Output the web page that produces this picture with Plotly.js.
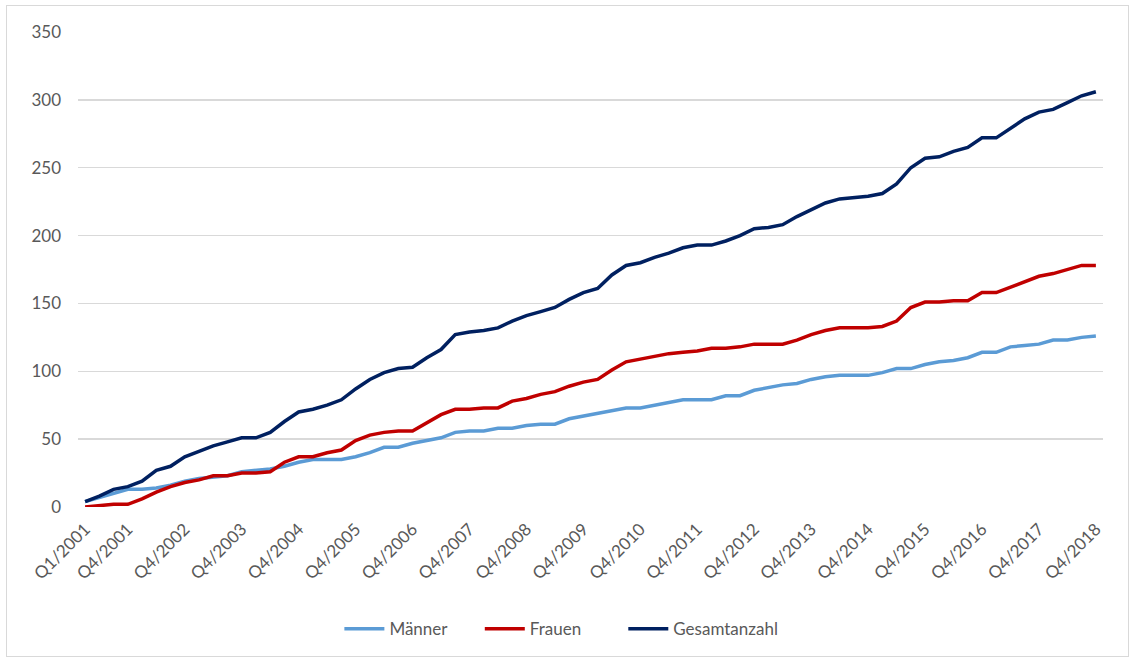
<!DOCTYPE html>
<html>
<head>
<meta charset="utf-8">
<script src="https://cdn.plot.ly/plotly-3.0.1.min.js"></script>
<style>
  html, body { margin: 0; padding: 0; background: #fff; }
  #wrap { position: relative; width: 1131px; height: 660px; }
  #frame { position: absolute; left: 6px; top: 5px; width: 1123px; height: 652px; border: 1px solid #d9d9d9; box-sizing: border-box; pointer-events: none; }
  #chart { position: absolute; left: 0; top: 0; width: 1131px; height: 660px; }
</style>
</head>
<body>
<div id="wrap">
  <div id="chart"></div>
  <div id="frame"></div>
</div>
<script>
// Quarters Q1/2001 .. Q4/2018
const years = [2001,2002,2003,2004,2005,2006,2007,2008,2009,2010,2011,2012,2013,2014,2015,2016,2017,2018];
const quarters = [];
years.forEach(y => { for (let q = 1; q <= 4; q++) quarters.push('Q' + q + '/' + y); });

const tickLabels = ['Q1/2001','Q4/2001','Q4/2002','Q4/2003','Q4/2004','Q4/2005','Q4/2006','Q4/2007','Q4/2008','Q4/2009','Q4/2010','Q4/2011','Q4/2012','Q4/2013','Q4/2014','Q4/2015','Q4/2016','Q4/2017','Q4/2018'];

const maenner = [4,7,10,13,13,14,16,19,21,22,23,26,
                 27,28,30,33,35,35,35,37,40,44,44,47,
                 49,51,55,56,56,58,58,60,61,61,65,67,
                 69,71,73,73,75,77,79,79,79,82,82,86,
                 88,90,91,94,96,97,97,97,99,102,102,105,
                 107,108,110,114,114,118,119,120,123,123,125,126];

const frauen = [0,1,2,2,6,11,15,18,20,23,23,25,
                25,26,33,37,37,40,42,49,53,55,56,56,
                62,68,72,72,73,73,78,80,83,85,89,92,
                94,101,107,109,111,113,114,115,117,117,118,120,
                120,120,123,127,130,132,132,132,133,137,147,151,
                151,152,152,158,158,162,166,170,172,175,178,178];

const gesamt = [4,8,13,15,19,27,30,37,41,45,48,51,
                51,55,63,70,72,75,79,87,94,99,102,103,
                110,116,127,129,130,132,137,141,144,147,153,158,
                161,171,178,180,184,187,191,193,193,196,200,205,
                206,208,214,219,224,227,228,229,231,238,250,257,
                258,262,265,272,272,279,286,291,293,298,303,306];

const font = 'Lato, "Open Sans", "DejaVu Sans", sans-serif';

const traces = [
  {x: quarters, y: maenner, name: 'Männer', type: 'scatter', mode: 'lines', legend: 'legend',
   line: {color: '#5B9BD5', width: 3.5}},
  {x: quarters, y: frauen, name: 'Frauen', type: 'scatter', mode: 'lines', legend: 'legend2',
   line: {color: '#C00000', width: 3.5}},
  {x: quarters, y: gesamt, name: 'Gesamtanzahl', type: 'scatter', mode: 'lines', legend: 'legend3',
   line: {color: '#002060', width: 3.5}}
];

const legendBase = {orientation: 'h', xanchor: 'left', y: -0.257, yanchor: 'middle',
                    font: {family: font, size: 17, color: '#595959'}, itemwidth: 40, bgcolor: 'rgba(0,0,0,0)'};

const layout = {
  width: 1131, height: 660,
  margin: {l: 78, r: 28, t: 32, b: 153},
  paper_bgcolor: '#ffffff', plot_bgcolor: '#ffffff',
  font: {family: font, size: 17, color: '#595959'},
  showlegend: true,
  legend: Object.assign({}, legendBase, {x: 0.255}),
  legend2: Object.assign({}, legendBase, {x: 0.392}),
  legend3: Object.assign({}, legendBase, {x: 0.532}),
  xaxis: {
    type: 'category', range: [-0.5, 71.5],
    tickmode: 'array', tickvals: tickLabels, ticktext: tickLabels,
    tickangle: -45, showgrid: false, zeroline: false, showline: false,
    ticks: '', ticklen: 0, ticklabelstandoff: 8,
    tickfont: {family: font, size: 17, color: '#595959'}
  },
  yaxis: {
    range: [0, 350], tickvals: [0,50,100,150,200,250,300,350],
    showgrid: true, gridcolor: '#d9d9d9', gridwidth: 1.3,
    zeroline: false, showline: false, ticks: '', ticklabelstandoff: 16,
    tickfont: {family: font, size: 17, color: '#595959'}
  }
};

Plotly.newPlot('chart', traces, layout, {displayModeBar: false, staticPlot: true});
</script>
</body>
</html>
